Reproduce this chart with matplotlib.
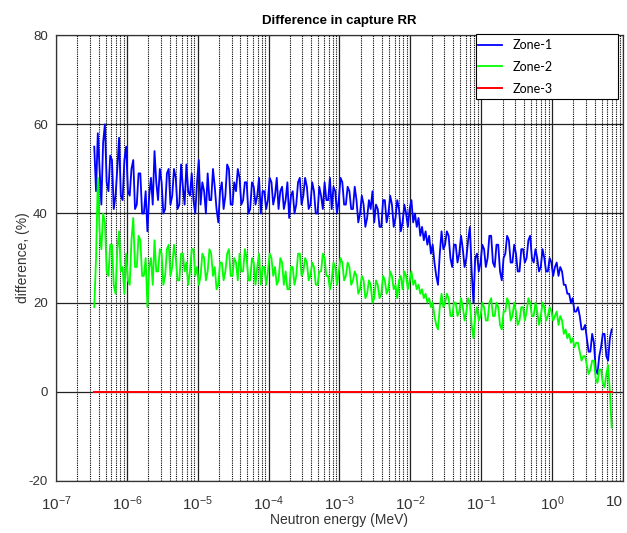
import numpy as np
import matplotlib
matplotlib.use("Agg")
import matplotlib.pyplot as plt
from matplotlib.patches import Rectangle
from matplotlib.ticker import LogLocator, FixedLocator, FixedFormatter, NullFormatter

plt.rcParams["font.family"] = ["Liberation Sans", "DejaVu Sans"]
plt.rcParams["axes.unicode_minus"] = False
plt.rcParams["mathtext.fontset"] = "custom"
plt.rcParams["mathtext.rm"] = "Liberation Sans"
plt.rcParams["mathtext.default"] = "rm"

# energy grid (log10 MeV), first point and step
log_e_start = -6.46
log_e_step = 0.025

zone1 = [55, 45, 58, 50, 42, 56, 60, 47, 45, 53, 52, 41, 44, 50, 57, 44, 43, 52, 55, 45,
         44, 50, 52, 41, 42, 49, 49, 40, 40, 45, 36, 44, 48, 42, 54, 47, 43, 50, 47, 40,
         41, 49, 50, 42, 44, 50, 48, 41, 42, 51, 46, 42, 51, 45, 44, 49, 43, 40, 47, 52,
         42, 47, 45, 40, 49, 43, 43, 50, 46, 41, 38, 45, 47, 41, 44, 51, 50, 42, 42, 47,
         45, 50, 48, 42, 43, 47, 47, 40, 41, 47, 46, 42, 44, 48, 40, 45, 45, 41, 43, 48,
         47, 42, 44, 48, 41, 45, 46, 41, 43, 47, 39, 44, 45, 40, 42, 47, 48, 42, 44, 48,
         46, 41, 42, 47, 45, 40, 40, 46, 44, 41, 47, 43, 43, 48, 41, 46, 45, 40, 43, 48,
         47, 42, 42, 46, 45, 41, 41, 46, 43, 38, 40, 44, 42, 37, 39, 43, 41, 45, 38, 42,
         41, 37, 37, 43, 43, 38, 40, 44, 42, 37, 39, 43, 41, 36, 38, 42, 40, 37, 41, 43,
         38, 40, 37, 39, 35, 37, 34, 36, 33, 35, 31, 33, 29, 26, 24, 31, 36, 32, 33, 36,
         35, 30, 28, 33, 33, 29, 31, 35, 32, 28, 30, 34, 37, 27, 20, 30, 31, 27, 29, 33,
         32, 28, 30, 35, 35, 29, 28, 33, 33, 27, 25, 30, 31, 35, 34, 29, 29, 33, 31, 27,
         27, 32, 32, 29, 30, 34, 35, 30, 29, 32, 30, 27, 28, 32, 30, 27, 27, 30, 29, 26,
         28, 29, 26, 28, 27, 24, 24, 22, 22, 20, 21, 18, 18, 19, 17, 14, 14, 15, 12, 9,
         9, 13, 11, 5, 4, 8, 10, 13, 13, 8, 7, 12, 14]

zone2 = [19, 30, 48, 36, 32, 40, 38, 27, 26, 33, 33, 24, 22, 32, 36, 27, 28, 22, 31, 25,
         24, 34, 39, 28, 28, 35, 34, 26, 26, 30, 19, 28, 30, 24, 34, 27, 27, 32, 31, 24,
         26, 32, 33, 26, 28, 33, 30, 25, 25, 31, 31, 27, 29, 24, 27, 32, 32, 26, 28, 24,
         26, 31, 30, 25, 27, 32, 31, 26, 28, 23, 24, 29, 29, 25, 27, 31, 32, 26, 26, 30,
         29, 25, 31, 27, 27, 32, 30, 25, 25, 30, 29, 24, 28, 31, 24, 28, 28, 24, 27, 31,
         30, 26, 28, 24, 25, 30, 29, 24, 27, 23, 23, 28, 28, 24, 26, 31, 31, 26, 27, 30,
         29, 25, 26, 29, 28, 24, 24, 27, 27, 31, 30, 26, 26, 23, 25, 29, 28, 24, 27, 30,
         29, 25, 26, 29, 28, 24, 25, 27, 26, 22, 23, 26, 25, 21, 22, 25, 24, 20, 21, 25,
         24, 21, 22, 26, 25, 22, 23, 27, 26, 23, 24, 21, 25, 26, 23, 27, 26, 23, 25, 27,
         24, 25, 23, 24, 22, 23, 21, 22, 20, 21, 19, 20, 17, 15, 14, 19, 22, 19, 20, 22,
         21, 17, 17, 20, 20, 17, 18, 21, 19, 16, 18, 21, 20, 15, 12, 17, 19, 16, 17, 20,
         19, 16, 16, 20, 21, 17, 17, 20, 19, 15, 14, 18, 18, 21, 20, 16, 17, 20, 18, 15,
         16, 19, 19, 16, 18, 21, 20, 17, 17, 20, 18, 15, 17, 20, 19, 16, 17, 19, 18, 16,
         17, 18, 15, 17, 16, 13, 14, 12, 13, 11, 12, 10, 11, 11, 9, 7, 8, 8, 6, 4,
         5, 7, 7, 3, 2, 5, 5, 2, 1, 4, 6, 0, -8]

zone3 = [0.0] * len(zone1)

energy = 10 ** (log_e_start + log_e_step * np.arange(len(zone1)))

major_ticks = [1e-7, 1e-6, 1e-5, 1e-4, 1e-3, 1e-2, 1e-1, 1e0, 1e1]
major_labels = ["$10^{-7}$", "$10^{-6}$", "$10^{-5}$", "$10^{-4}$", "$10^{-3}$",
                "$10^{-2}$", "$10^{-1}$", "$10^{0}$", "10"]
y_ticks = [-20, 0, 20, 40, 60, 80]

fig = plt.figure(figsize=(6.27, 5.33), dpi=100)
ax = fig.add_axes([0.0893, 0.0976, 0.9043, 0.8364])

ax.plot(energy, zone1, color="#0000ff", lw=1.3, label="Zone-1")
ax.plot(energy, zone2, color="#00ff00", lw=1.3, label="Zone-2")
ax.plot(energy, zone3, color="#ff0000", lw=1.4, label="Zone-3")

ax.set_xscale("log")
ax.set_xlim(1e-7, 10)
ax.set_ylim(-20, 80)
ax.xaxis.set_major_locator(FixedLocator(major_ticks))
ax.xaxis.set_major_formatter(FixedFormatter(major_labels))
ax.xaxis.set_minor_locator(LogLocator(base=10, subs=np.arange(2, 10)))
ax.xaxis.set_minor_formatter(NullFormatter())
ax.set_yticks(y_ticks)

ax.grid(True, which="major", axis="both", color="#222222", lw=0.9, ls="-")
ax.grid(True, which="minor", axis="x", color="black", lw=0.8, ls=(0, (1, 1)))
ax.set_axisbelow(True)
ax.tick_params(which="both", length=0, labelsize=9.5, colors="#333333")
ax.tick_params(axis="x", pad=10, labelsize=11)
ax.tick_params(axis="y", pad=6)
ax.get_xticklabels()[-1].set_horizontalalignment("right")
for s in ax.spines.values():
    s.set_color("#333333")
    s.set_linewidth(0.9)

ax.set_title("Difference in capture RR", fontsize=9.5, fontweight="bold", pad=8)
ax.set_xlabel("Neutron energy (MeV)", fontsize=10, color="#333333", labelpad=0)
ax.set_ylabel("difference, (%)", fontsize=10, color="#333333", labelpad=-1)

# legend box as in the picture: wide frame, entries on its left
fig.patches.append(Rectangle((0.7592, 0.8143), 0.2265, 0.1220, transform=fig.transFigure,
                             facecolor="white", edgecolor="black", lw=0.8, zorder=5))
leg = fig.legend(loc="upper left", bbox_to_anchor=(0.7624, 0.9268), frameon=False,
                 handlelength=1.9, borderpad=0.0, borderaxespad=0.0, labelspacing=0.78,
                 handletextpad=0.85, prop={"family": "Lato", "size": 9})
leg.set_zorder(6)

fig.savefig("out.png", dpi=100)
